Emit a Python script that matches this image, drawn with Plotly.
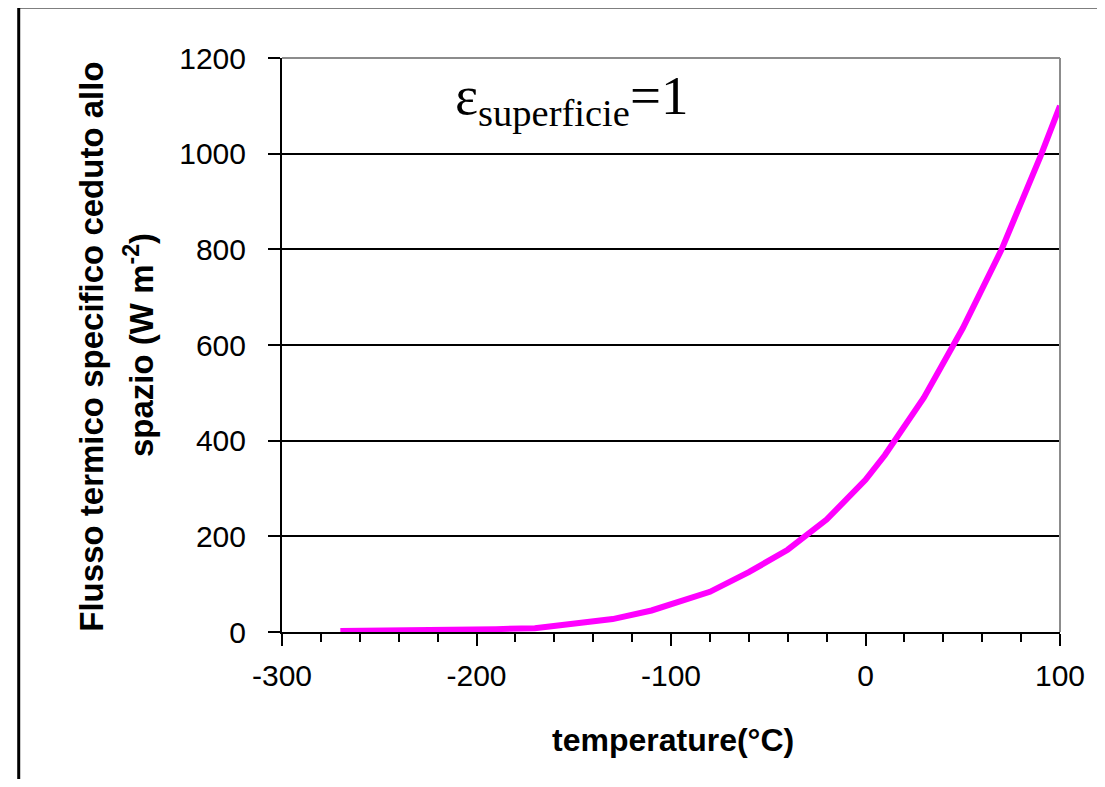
import plotly.graph_objects as go

# Data
temperature_c = [-270, -200, -190, -170, -150, -130, -110, -80, -60, -40, -20, 0, 10, 30, 50, 70, 90, 100]
flux_w_m2 = [2, 3, 6, 8, 17, 27, 45, 84, 125, 172, 235, 318, 370, 490, 635, 800, 995, 1100]

x_ticks = [-300, -200, -100, 0, 100]
y_ticks = [0, 200, 400, 600, 800, 1000, 1200]

OFF = 8  # page body margin on each side
W, H = 1105 - 2 * OFF, 787 - 2 * OFF
L, R, T, B = 282 - OFF, 1071 - OFF, 58 - OFF, 632 - OFF
pw, ph = R - L, B - T

def px_x(p):
    return (p - OFF - L) / pw

def px_y(p):
    return (B - (p - OFF)) / ph

fig = go.Figure()
fig.add_trace(go.Scatter(
    x=temperature_c, y=flux_w_m2, mode="lines",
    line=dict(color="#FF00FF", width=6),
    showlegend=False, hoverinfo="x+y",
))

tick_font = dict(family="Arial, Liberation Sans, sans-serif", size=30, color="black")

fig.update_layout(
    width=W, height=H,
    margin=dict(l=L, r=W - R, t=T, b=H - B),
    paper_bgcolor="white", plot_bgcolor="white",
    xaxis=dict(
        range=[-300, 100], tickvals=x_ticks, ticktext=[str(v) for v in x_ticks],
        showgrid=False, zeroline=False,
        showline=True, linecolor="black", linewidth=2,
        ticks="outside", ticklen=12, tickwidth=2, tickcolor="black",
        minor=dict(dtick=20, ticks="outside", ticklen=8, tickwidth=2, tickcolor="black", showgrid=False),
        tickfont=tick_font, ticklabelstandoff=4,
    ),
    yaxis=dict(
        range=[0, 1200], tickvals=y_ticks, ticktext=[str(v) for v in y_ticks],
        showgrid=True, gridcolor="black", gridwidth=2, zeroline=False,
        showline=True, linecolor="black", linewidth=2,
        ticks="outside", ticklen=12, tickwidth=2, tickcolor="black",
        tickfont=tick_font, ticklabelstandoff=16,
    ),
)

# Gray frame on top and right of the plot area
fig.add_shape(type="line", xref="paper", yref="paper", x0=0, x1=1, y0=1, y1=1,
              line=dict(color="#8c8c8c", width=2), layer="above")
fig.add_shape(type="line", xref="paper", yref="paper", x0=1, x1=1, y0=0, y1=1,
              line=dict(color="#8c8c8c", width=2), layer="above")

# Outer chart border (left and top visible)
fig.add_shape(type="rect", xref="paper", yref="paper",
              x0=px_x(15), x1=px_x(1105 + 30), y0=px_y(7), y1=px_y(787 + 30),
              line=dict(color="black", width=3), fillcolor="rgba(0,0,0,0)", layer="above")

# Y axis title (two lines)
fig.add_annotation(text="<b>Flusso termico specifico ceduto allo</b>", xref="paper", yref="paper",
                   x=px_x(88), y=px_y(347), textangle=-90, showarrow=False,
                   xanchor="center", yanchor="middle",
                   font=dict(family="Arial, Liberation Sans, sans-serif", size=33, color="black"))
fig.add_annotation(text="<b>spazio (W m<sup>-2</sup>)</b>", xref="paper", yref="paper",
                   x=px_x(137), y=px_y(345), textangle=-90, showarrow=False,
                   xanchor="center", yanchor="middle",
                   font=dict(family="Arial, Liberation Sans, sans-serif", size=33, color="black"))

# X axis title
fig.add_annotation(text="<b>temperature(°C)</b>", xref="paper", yref="paper",
                   x=px_x(679), y=px_y(740), showarrow=False,
                   xanchor="center", yanchor="middle",
                   font=dict(family="Arial, Liberation Sans, sans-serif", size=32, color="black"))

# Emissivity label
fig.add_annotation(text="ε<sub>superficie</sub>=1", xref="paper", yref="paper",
                   x=px_x(455), y=px_y(100), showarrow=False,
                   xanchor="left", yanchor="middle",
                   font=dict(family="Liberation Serif, Times New Roman, serif", size=55, color="black"))

fig.write_html("out.html", config={"displayModeBar": False})
